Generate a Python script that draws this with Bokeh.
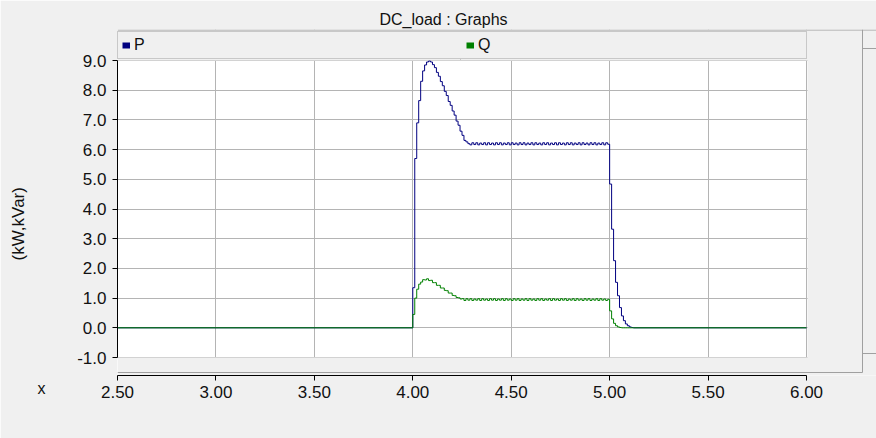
from bokeh.plotting import figure
from bokeh.models import (Legend, LegendItem, BoxAnnotation, Range1d, Title,
                          FixedTicker, PrintfTickFormatter)
from bokeh.embed import file_html
from bokeh.resources import INLINE

# ---------------- data ----------------
TITLE = "DC_load : Graphs"
Y_LABEL = "(kW,kVar)"
X_LABEL = "x"
SERIES_NAMES = ["P", "Q"]
X_TICKS = [2.5, 3.0, 3.5, 4.0, 4.5, 5.0, 5.5, 6.0]
Y_TICKS = [-1.0, 0.0, 1.0, 2.0, 3.0, 4.0, 5.0, 6.0, 7.0, 8.0, 9.0]
T_START = 2.5
T_END = 6.0
T_ACTIVE_START = 4.00
DT = 0.01

P_ACTIVE = [
    1.35, 5.70, 6.90, 7.65, 8.30, 8.65, 8.85, 8.95, 8.98, 8.95,
    8.86, 8.76, 8.60, 8.47, 8.29, 8.15, 7.96, 7.82, 7.62, 7.49,
    7.30, 7.16, 6.96, 6.82, 6.62, 6.48, 6.31, 6.26, 6.20,
    6.16, 6.23, 6.17, 6.23, 6.16, 6.22, 6.17, 6.23, 6.16, 6.23,
    6.17, 6.22, 6.16, 6.23, 6.17, 6.23, 6.16, 6.22, 6.17, 6.23,
    6.16, 6.23, 6.17, 6.22, 6.16, 6.23, 6.17, 6.23, 6.16, 6.22,
    6.17, 6.23, 6.16, 6.23, 6.17, 6.22, 6.16, 6.23, 6.17, 6.23,
    6.16, 6.22, 6.17, 6.23, 6.16, 6.23, 6.17, 6.22, 6.16, 6.23,
    6.17, 6.23, 6.16, 6.22, 6.17, 6.23, 6.16, 6.23, 6.17, 6.22,
    6.16, 6.23, 6.17, 6.23, 6.16, 6.22, 6.17, 6.23, 6.16, 6.23,
    6.18,
    4.84, 3.32, 2.26, 1.53, 1.08, 0.68, 0.40, 0.24, 0.13, 0.07,
    0.03, 0.01, 0.00,
]

Q_ACTIVE = [
    0.45, 1.00, 1.30, 1.47, 1.54, 1.62, 1.61, 1.65, 1.59, 1.60,
    1.52, 1.52, 1.43, 1.43, 1.34, 1.34, 1.26, 1.25, 1.17, 1.17,
    1.09, 1.08, 1.02, 1.01, 0.97, 0.98,
    0.92, 0.98, 0.93, 0.98, 0.92, 0.97, 0.93, 0.98, 0.92, 0.98,
    0.93, 0.97, 0.92, 0.98, 0.93, 0.98, 0.92, 0.97, 0.93, 0.98,
    0.92, 0.98, 0.93, 0.97, 0.92, 0.98, 0.93, 0.98, 0.92, 0.97,
    0.93, 0.98, 0.92, 0.98, 0.93, 0.97, 0.92, 0.98, 0.93, 0.98,
    0.92, 0.97, 0.93, 0.98, 0.92, 0.98, 0.93, 0.97, 0.92, 0.98,
    0.93, 0.98, 0.92, 0.97, 0.93, 0.98, 0.92, 0.98, 0.93, 0.97,
    0.92, 0.98, 0.93, 0.98, 0.92, 0.97, 0.93, 0.98, 0.92, 0.98,
    0.93, 0.97, 0.92, 0.96,
    0.57, 0.30, 0.15, 0.07, 0.03, 0.01, 0.00, 0.00, 0.00, 0.00,
    0.00, 0.00, 0.00,
]

# ---------------- styles / layout ----------------
P_COLOR = "#000080"
Q_COLOR = "#008000"
BG = "#f0f0f0"
GRID = "#b4b4b4"
SEP = "#a0a0a0"
TXT = "#111111"
FONT = "Liberation Sans"

W, H = 876, 438
FR_L, FR_R, FR_T, FR_B = 117, 876, 29, 375     # frame in canvas px
PLOT_R = 806                                    # pixel of last x tick
TICK_TOP_PX, TICK_BOTTOM_PX = 60, 357           # pixels of 9.0 and -1.0
LEG_TOP, LEG_BOT = 33, 59                        # legend bar
LEG_DIV_X = 460                                  # divider inside legend bar
SCROLL_X = 862                                   # scrollbar edge
SCROLL_BTN_TOP, SCROLL_BTN_BOT = 48, 353
SEP_Y = 372                                      # line above the x axis
FR_H = FR_B - FR_T
PLOT_W = PLOT_R - FR_L


def series(vals):
    t = [T_START] + [round(T_ACTIVE_START + DT * k, 3) for k in range(len(vals))] + [T_END]
    v = [0.0] + list(vals) + [0.0]
    return t, v


ypx = (TICK_BOTTOM_PX - TICK_TOP_PX) / (Y_TICKS[-1] - Y_TICKS[0])
y_start = Y_TICKS[0] - (FR_B - TICK_BOTTOM_PX) / ypx
y_end = Y_TICKS[-1] + (TICK_TOP_PX - FR_T) / ypx
xpx = PLOT_W / (X_TICKS[-1] - X_TICKS[0])
x_end = X_TICKS[-1] + (FR_R - PLOT_R) / xpx

p = figure(width=W, height=H, output_backend="svg", toolbar_location=None,
           x_range=Range1d(X_TICKS[0], x_end),
           y_range=Range1d(y_start, y_end),
           min_border_left=FR_L, min_border_right=W - FR_R,
           min_border_top=FR_T, min_border_bottom=H - FR_B,
           background_fill_color="white", border_fill_color=BG,
           outline_line_color=None)

p.title.text = TITLE
p.title.align = "left"
p.title.offset = 379 - FR_L
p.title.text_font = FONT
p.title.text_font_size = "16px"
p.title.text_font_style = "normal"
p.title.text_color = TXT
p.title.standoff = 3

# axes
xa = p.xaxis[0]
xa.ticker = FixedTicker(ticks=X_TICKS)
xa.formatter = PrintfTickFormatter(format="%.2f")
xa.bounds = (X_TICKS[0], X_TICKS[-1])
ya = p.yaxis[0]
ya.ticker = FixedTicker(ticks=Y_TICKS)
ya.formatter = PrintfTickFormatter(format="%.1f")
ya.bounds = (Y_TICKS[0], Y_TICKS[-1])
ya.axis_label = Y_LABEL + "\u2003\u2003\u2002"
ya.axis_label_text_font = FONT
ya.axis_label_text_font_size = "17px"
ya.axis_label_text_font_style = "normal"
ya.axis_label_text_color = TXT
ya.axis_label_standoff = 46
for ax, so in ((xa, 5), (ya, 6)):
    ax.major_tick_out = 5
    ax.major_tick_in = 0
    ax.minor_tick_out = 0
    ax.minor_tick_in = 0
    ax.axis_line_color = "black"
    ax.major_tick_line_color = "black"
    ax.major_label_text_font = FONT
    ax.major_label_text_font_size = "17px"
    ax.major_label_text_color = TXT
    ax.major_label_standoff = so

p.xgrid.ticker = FixedTicker(ticks=X_TICKS)
p.ygrid.ticker = FixedTicker(ticks=Y_TICKS)
p.grid.grid_line_color = GRID
p.grid.grid_line_width = 1

# gray areas around the white plot area (cover the grid there)
p.add_layout(BoxAnnotation(top=Y_TICKS[0], fill_color=BG, fill_alpha=1,
                           line_color=None, level="underlay"))
p.add_layout(BoxAnnotation(bottom=Y_TICKS[-1], fill_color=BG, fill_alpha=1,
                           line_color=None, level="underlay"))
p.add_layout(BoxAnnotation(left=PLOT_W + 1, left_units="screen", fill_color=BG,
                           fill_alpha=1, line_color=None, level="underlay"))

# data
tp, vp = series(P_ACTIVE)
tq, vq = series(Q_ACTIVE)
p.step(tp, vp, mode="after", color=P_COLOR, line_width=1)
p.step(tq, vq, mode="after", color=Q_COLOR, line_width=1)

# legend bar just above the white plot area
lp = p.line(tp[:1], vp[:1], color=P_COLOR, line_width=6)
lq = p.line(tq[:1], vq[:1], color=Q_COLOR, line_width=6)
legend = Legend(items=[LegendItem(label=SERIES_NAMES[0], renderers=[lp]),
                       LegendItem(label=SERIES_NAMES[1], renderers=[lq])],
                orientation="horizontal", location=(0, FR_B - LEG_BOT), margin=0,
                padding=4, spacing=8, glyph_width=8, glyph_height=18,
                label_height=18, label_width=(PLOT_W - 8 - 8) // 2 - 12,
                label_standoff=4, label_text_font=FONT,
                label_text_font_size="16px", label_text_color=TXT,
                background_fill_color=BG, background_fill_alpha=1,
                border_line_color=SEP)
p.add_layout(legend)


def sbox(**kw):
    args = dict(fill_color=SEP, fill_alpha=1, line_color=None)
    for k, v in kw.items():
        args[k] = v
        args[k + "_units"] = "screen"
    p.add_layout(BoxAnnotation(**args))


sx = SCROLL_X - FR_L
sbox(bottom=FR_H - 1, top=FR_H)                                  # under title
sbox(right=sx, bottom=FR_B - SEP_Y - 0.5, top=FR_B - SEP_Y + 0.5)  # above x axis
sbox(left=sx - 0.5, right=sx + 0.5,
     bottom=FR_B - SEP_Y, top=FR_H)                              # scrollbar edge
sbox(left=sx, bottom=FR_B - SCROLL_BTN_TOP - 0.5,
     top=FR_B - SCROLL_BTN_TOP + 0.5)                            # scroll button
sbox(left=sx, bottom=FR_B - SCROLL_BTN_BOT - 0.5,
     top=FR_B - SCROLL_BTN_BOT + 0.5)                            # scroll button
sbox(left=LEG_DIV_X - FR_L - 0.5, right=LEG_DIV_X - FR_L + 0.5,
     bottom=FR_B - LEG_BOT, top=FR_B - LEG_TOP)                  # legend divider

# "x" caption at the left of the x axis
p.add_layout(Title(text=X_LABEL, align="left", vertical_align="top",
                   offset=-80, standoff=-42,
                   text_font=FONT, text_font_size="16px",
                   text_font_style="normal", text_color=TXT), "below")

open("out.html", "w").write(file_html(p, INLINE))
